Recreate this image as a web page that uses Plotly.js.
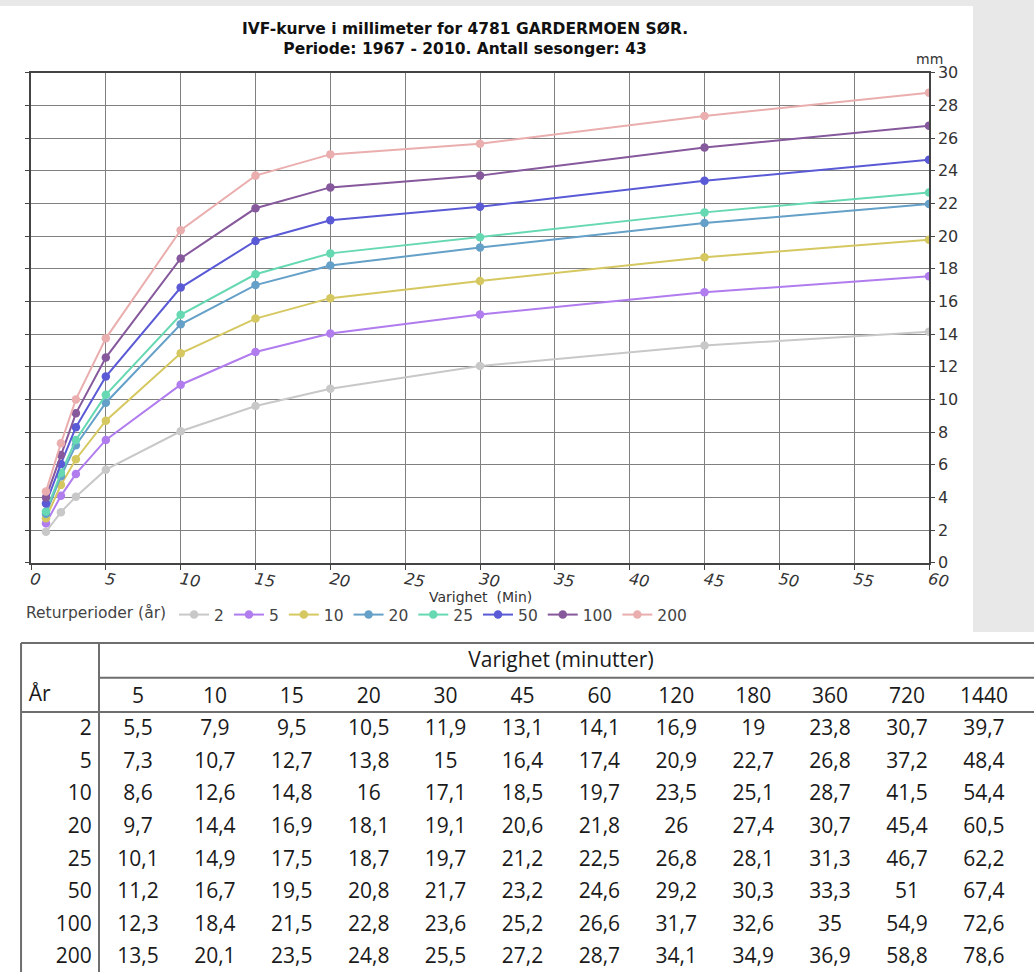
<!DOCTYPE html>
<html><head><meta charset="utf-8">
<script src="https://cdn.plot.ly/plotly-3.0.1.min.js"></script>
<style>html,body{margin:0;padding:0;background:#fff;}#chart{width:1034px;height:972px;}</style>
</head><body><div id="chart"></div>
<script>
// ---- chart data ----
const durations = [1, 2, 3, 5, 10, 15, 20, 30, 45, 60];
const periods = ['2', '5', '10', '20', '25', '50', '100', '200'];
const curve2   = [1.9, 3.1, 4.05, 5.7, 8.05, 9.6, 10.65, 12.05, 13.3, 14.15];
const curve5   = [2.42, 4.1, 5.44, 7.52, 10.9, 12.9, 14.04, 15.2, 16.56, 17.54];
const curve10  = [2.73, 4.77, 6.34, 8.7, 12.82, 14.95, 16.2, 17.25, 18.7, 19.78];
const curve20  = [3.0, 5.3, 7.2, 9.8, 14.6, 17.0, 18.2, 19.3, 20.8, 21.96];
const curve25  = [3.14, 5.5, 7.52, 10.28, 15.18, 17.66, 18.94, 19.93, 21.45, 22.67];
const curve50  = [3.63, 6.05, 8.3, 11.4, 16.85, 19.7, 20.97, 21.8, 23.38, 24.67];
const curve100 = [4.0, 6.6, 9.15, 12.56, 18.63, 21.7, 22.98, 23.7, 25.42, 26.76];
const curve200 = [4.36, 7.32, 10.0, 13.74, 20.36, 23.7, 25.0, 25.65, 27.35, 28.78];

// ---- table data ----
const tableDurations = ['5', '10', '15', '20', '30', '45', '60', '120', '180', '360', '720', '1440'];
const tableYears = ['2', '5', '10', '20', '25', '50', '100', '200'];
const table2   = [5.5, 7.9, 9.5, 10.5, 11.9, 13.1, 14.1, 16.9, 19, 23.8, 30.7, 39.7];
const table5   = [7.3, 10.7, 12.7, 13.8, 15, 16.4, 17.4, 20.9, 22.7, 26.8, 37.2, 48.4];
const table10  = [8.6, 12.6, 14.8, 16, 17.1, 18.5, 19.7, 23.5, 25.1, 28.7, 41.5, 54.4];
const table20  = [9.7, 14.4, 16.9, 18.1, 19.1, 20.6, 21.8, 26, 27.4, 30.7, 45.4, 60.5];
const table25  = [10.1, 14.9, 17.5, 18.7, 19.7, 21.2, 22.5, 26.8, 28.1, 31.3, 46.7, 62.2];
const table50  = [11.2, 16.7, 19.5, 20.8, 21.7, 23.2, 24.6, 29.2, 30.3, 33.3, 51, 67.4];
const table100 = [12.3, 18.4, 21.5, 22.8, 23.6, 25.2, 26.6, 31.7, 32.6, 35, 54.9, 72.6];
const table200 = [13.5, 20.1, 23.5, 24.8, 25.5, 27.2, 28.7, 34.1, 34.9, 36.9, 58.8, 78.6];

const titleLine1 = 'IVF-kurve i millimeter for 4781 GARDERMOEN SØR.';
const titleLine2 = 'Periode: 1967 - 2010. Antall sesonger: 43';
const xTitle = 'Varighet  (Min)';
const yUnit = 'mm';
const legendTitle = 'Returperioder (år)';
const tableSuperHeader = 'Varighet (minutter)';
const tableRowHeader = 'År';

// ---- styles ----
const curves = [curve2, curve5, curve10, curve20, curve25, curve50, curve100, curve200];
const tables = [table2, table5, table10, table20, table25, table50, table100, table200];
const colors = ['#c8c8c8', '#b07cee', '#d6c860', '#64a0c8', '#66d8b2', '#5a5ad6', '#86589c', '#eaaeae'];
const chartFont = 'DejaVu Sans, sans-serif';
const tableFont = 'Open Sans, Lato, sans-serif';
const tSize = 21;

const traces = [];
periods.forEach((p, i) => {
  traces.push({
    type: 'scatter', mode: 'lines+markers', name: p,
    x: durations, y: curves[i], xaxis: 'x', yaxis: 'y',
    line: {color: colors[i], width: 2},
    marker: {color: colors[i], size: 8.5, symbol: 'circle'},
    hoverinfo: 'x+y+name'
  });
});

const fmt = v => String(v).replace('.', ',');
const tf = {family: tableFont, size: tSize, color: '#1a1a1a'};
// table cells
const cx = [], cy = [], ct = [];
tables.forEach((row, r) => {
  row.forEach((v, c) => { cx.push(c); cy.push(r); ct.push(fmt(v)); });
});
traces.push({type: 'scatter', mode: 'text', x: cx, y: cy, text: ct, xaxis: 'x2', yaxis: 'y2',
  textposition: 'middle center', textfont: tf, showlegend: false, hoverinfo: 'skip', cliponaxis: false});
// column headers
traces.push({type: 'scatter', mode: 'text', x: tableDurations.map((d, i) => i), y: tableDurations.map(() => -1),
  text: tableDurations, xaxis: 'x2', yaxis: 'y2', textposition: 'middle center',
  textfont: tf, showlegend: false, hoverinfo: 'skip', cliponaxis: false});
// row headers
traces.push({type: 'scatter', mode: 'text', x: tableYears.map(() => -0.6), y: tableYears.map((y, i) => i),
  text: tableYears, xaxis: 'x2', yaxis: 'y2', textposition: 'middle left',
  textfont: tf, showlegend: false, hoverinfo: 'skip', cliponaxis: false});
// "År" and super header
traces.push({type: 'scatter', mode: 'text', x: [-1.42], y: [-1.05], text: [tableRowHeader], xaxis: 'x2', yaxis: 'y2',
  textposition: 'middle right', textfont: tf, showlegend: false, hoverinfo: 'skip', cliponaxis: false});
traces.push({type: 'scatter', mode: 'text', x: [(tableDurations.length - 1) / 2], y: [-2.1], text: [tableSuperHeader],
  xaxis: 'x2', yaxis: 'y2', textposition: 'middle center', textfont: tf,
  showlegend: false, hoverinfo: 'skip', cliponaxis: false});

const W = 1034, H = 972;
const tLine = {color: '#6e6e6e', width: 2};
const layout = {
  width: W, height: H,
  margin: {l: 0, r: 0, t: 0, b: 0, pad: 0},
  paper_bgcolor: '#ffffff', plot_bgcolor: '#ffffff',
  showlegend: true,
  title: {text: titleLine1 + '<br>' + titleLine2, x: 465 / W, xanchor: 'center', xref: 'paper',
          y: 1 - 34 / H, yanchor: 'top', font: {family: chartFont, size: 15.5, color: '#111', weight: 'bold'}},
  xaxis: {domain: [31 / W, 929 / W], range: [0, 60], tick0: 0, dtick: 5, anchor: 'y',
          showgrid: true, gridcolor: '#808080', gridwidth: 1, zeroline: false,
          showline: true, linecolor: '#444', linewidth: 1.5, mirror: true,
          ticks: 'outside', ticklen: 5, tickcolor: '#444', tickangle: 10, ticklabelstandoff: -5,
          tickfont: {family: chartFont, size: 16, color: '#333', style: 'italic'}},
  yaxis: {domain: [1 - 562.8 / H, 1 - 72.7 / H], range: [0, 30], tick0: 0, dtick: 2, anchor: 'x', side: 'right',
          showgrid: true, gridcolor: '#808080', gridwidth: 1, zeroline: false,
          showline: true, linecolor: '#444', linewidth: 1.5, mirror: 'ticks',
          ticks: 'outside', ticklen: 4, tickcolor: '#444',
          tickfont: {family: chartFont, size: 16, color: '#333'}},
  xaxis2: {domain: [0, 1], range: [-138 / 76.9, -138 / 76.9 + W / 76.9], visible: false, anchor: 'y2', fixedrange: true},
  yaxis2: {domain: [0, 0.35], range: [(H - 730) / 32.6, (H * 0.65 - 730) / 32.6], visible: false, anchor: 'x2', fixedrange: true},
  legend: {orientation: 'h', x: 24 / W, xanchor: 'left', y: 1 - 615 / H, yanchor: 'middle',
           title: {text: legendTitle, side: 'left', font: {family: chartFont, size: 15.5, color: '#444'}},
           font: {family: chartFont, size: 15.5, color: '#444'}, bgcolor: 'rgba(0,0,0,0)',
           itemwidth: 30, tracegroupgap: 0, itemclick: false},
  annotations: [
    {text: yUnit, xref: 'paper', yref: 'paper', x: 929 / W, y: 1 - 59 / H, showarrow: false,
     xanchor: 'center', yanchor: 'middle', font: {family: chartFont, size: 14, color: '#333'}},
    {text: xTitle, xref: 'paper', yref: 'paper', x: 480 / W, y: 1 - 597 / H, showarrow: false,
     xanchor: 'center', yanchor: 'middle', font: {family: chartFont, size: 14, color: '#333'}}
  ],
  shapes: [
    {type: 'rect', xref: 'paper', yref: 'paper', x0: 0, x1: 1, y0: 1 - 6 / H, y1: 1,
     fillcolor: '#e8e8e8', line: {width: 0}, layer: 'below'},
    {type: 'rect', xref: 'paper', yref: 'paper', x0: 973 / W, x1: 1, y0: 1 - 632 / H, y1: 1,
     fillcolor: '#e8e8e8', line: {width: 0}, layer: 'below'},
    // table grid lines
    {type: 'line', xref: 'x2', yref: 'y2', x0: -1.521, x1: 11.7, y0: -2.67, y1: -2.67, line: tLine},
    {type: 'line', xref: 'x2', yref: 'y2', x0: -1.521, x1: -1.521, y0: -2.67, y1: 8, line: tLine},
    {type: 'line', xref: 'x2', yref: 'y2', x0: -0.507, x1: -0.507, y0: -2.67, y1: 8, line: tLine},
    {type: 'line', xref: 'x2', yref: 'y2', x0: -0.507, x1: 11.7, y0: -1.6, y1: -1.6, line: tLine},
    {type: 'line', xref: 'x2', yref: 'y2', x0: -1.521, x1: 11.7, y0: -0.55, y1: -0.55, line: tLine}
  ]
};
Plotly.newPlot('chart', traces, layout, {displayModeBar: false});
</script>
</body></html>
